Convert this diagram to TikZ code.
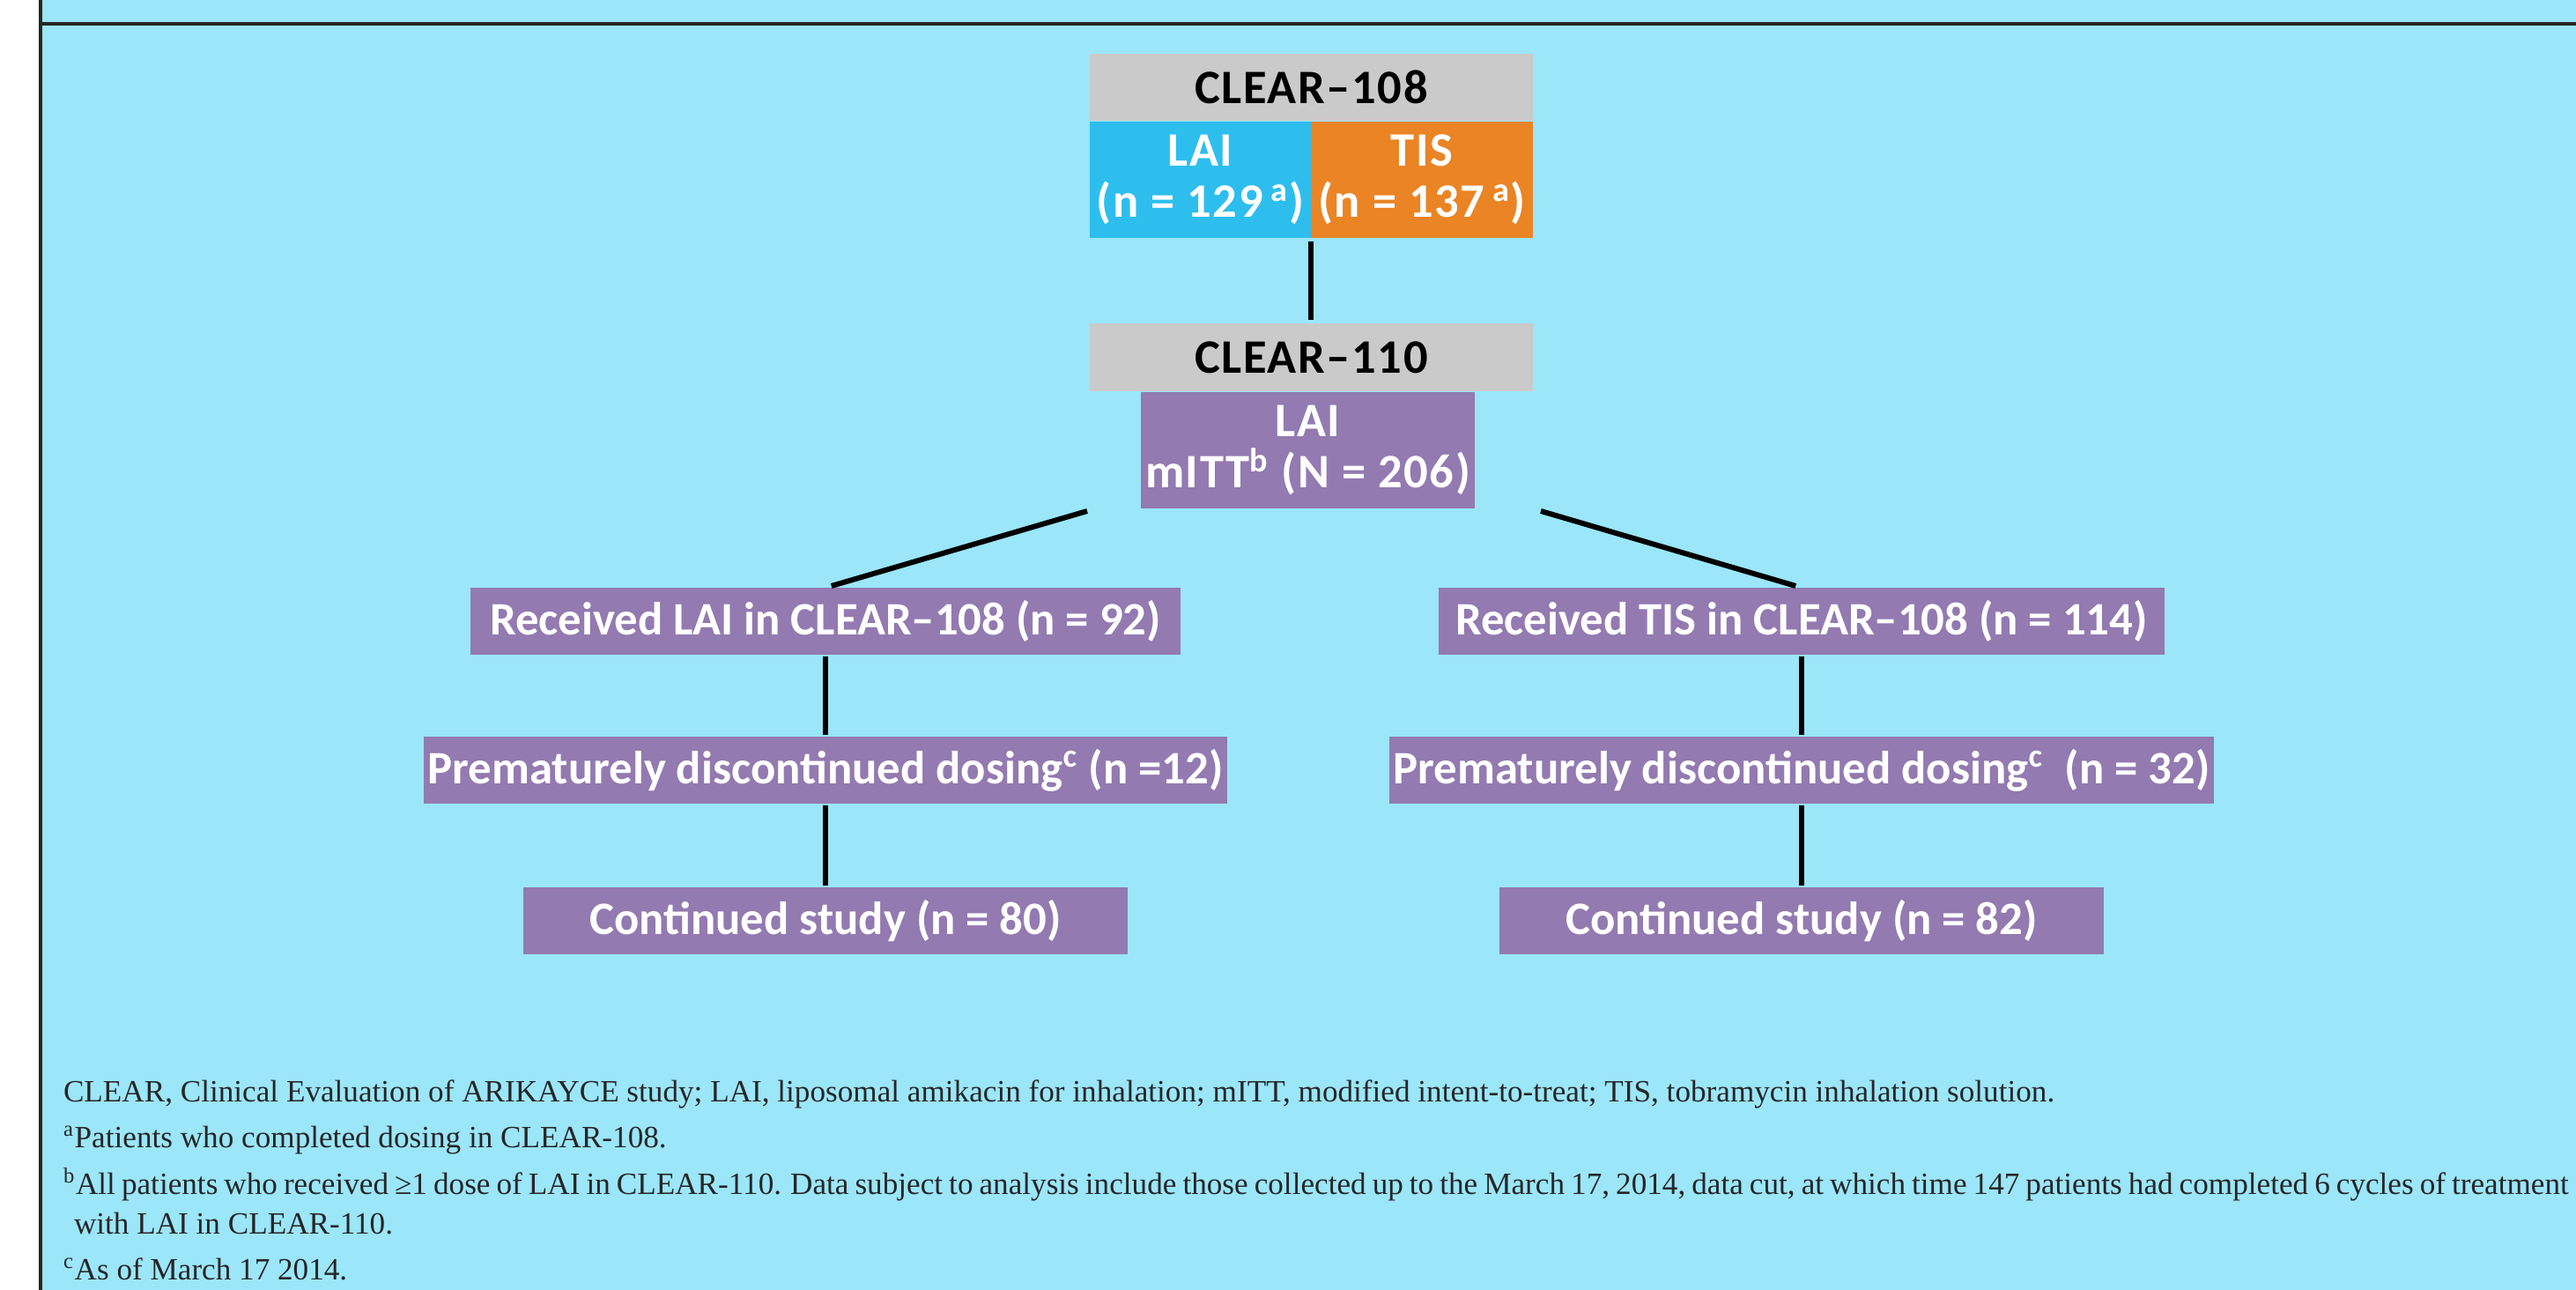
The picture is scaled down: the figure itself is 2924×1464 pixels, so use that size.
\documentclass[tikz,border=0pt]{standalone}
\usepackage{fontspec}
\setmainfont{Liberation Serif}
\newfontfamily\boxfont{Carlito}
\newfontfamily\topfont{Carlito}[LetterSpace=3]
\usetikzlibrary{calc}

\definecolor{panelblue}{RGB}{155,230,249}
\definecolor{headgray}{RGB}{202,202,202}
\definecolor{laiblue}{RGB}{45,190,238}
\definecolor{tisorange}{RGB}{234,132,37}
\definecolor{armpurple}{RGB}{147,122,176}

\begin{document}
\begin{tikzpicture}[x=0.01cm, y=-0.01cm, font=\boxfont\bfseries\fontsize{15}{16}\selectfont, every node/.style={outer sep=0pt, inner sep=0pt}, top/.style={font=\topfont\bfseries\fontsize{15.5}{16.5}\selectfont}, head/.style={top, fill=headgray, text=black, minimum width=5.03cm, minimum height=0.76cm, align=center}, arm/.style={top, fill=#1, text=white, minimum width=2.515cm, minimum height=1.31cm, align=center}, pbox/.style={fill=armpurple, text=white, minimum height=0.76cm, align=center}, link/.style={line width=1.7pt, line cap=butt}, note/.style={anchor=base west, font=\rmfamily\fontsize{10}{12}\selectfont, text=black!85}]
	\useasboundingbox (0,0) rectangle (2924,1464);
	
	% panel
	\fill[white] (0,0) rectangle (2924,1464);
	\fill[panelblue] (46,0) rectangle (2924,1464);
	\draw[line width=1pt, black!85] (46,0) -- (46,1464);
	\draw[line width=1.1pt, black!85] (46,27) -- (2924,27);
	
	% CLEAR-108
	\node[head] (c108) at (1488.5, 99) {CLEAR–108};
	\node[arm=laiblue] (lai) at (1362.5, 204) {LAI\\(n = 129\,\textsuperscript{a})};
	\node[arm=tisorange] (tis) at (1614, 204) {TIS\\(n = 137\,\textsuperscript{a})};
	
	% CLEAR-110
	\node[head] (c110) at (1488.5, 405.5) {CLEAR–110};
	\node[pbox, top, minimum width=3.79cm, minimum height=1.32cm] (mitt) at (1484.5, 511) {LAI\\mITT\textsuperscript{b} (N = 206)};
	\coordinate (forkL) at (1234, 580);
	\coordinate (forkR) at (1749, 580);
	
	% LAI arm
	\node[pbox, minimum width=8.05cm] (recLAI) at (937, 705) {Received LAI in CLEAR–108 (n = 92)};
	\node[pbox, minimum width=9.12cm] (disLAI) at (937, 874) {Prematurely discontinued dosing\textsuperscript{c} (n =12)};
	\node[pbox, minimum width=6.85cm] (conLAI) at (937, 1045) {Continued study (n = 80)};
	
	% TIS arm
	\node[pbox, minimum width=8.24cm] (recTIS) at (2045, 705) {Received TIS in CLEAR–108 (n = 114)};
	\node[pbox, minimum width=9.36cm] (disTIS) at (2045, 874) {Prematurely discontinued dosing\textsuperscript{c}\ \ (n = 32)};
	\node[pbox, minimum width=6.85cm] (conTIS) at (2045, 1045) {Continued study (n = 82)};
	
	\draw[link, shorten <=1.2pt, shorten >=1.2pt] (lai.south east) -- (lai.south east |- c110.north);
	\draw[link, shorten >=2pt] (forkL) -- (recLAI.north);
	\draw[link, shorten >=2pt] (forkR) -- (recTIS.north);
	\draw[link, shorten <=0.5pt, shorten >=0.5pt] (recLAI) -- (disLAI);
	\draw[link, shorten <=0.5pt, shorten >=0.5pt] (disLAI) -- (conLAI);
	\draw[link, shorten <=0.5pt, shorten >=0.5pt] (recTIS) -- (disTIS);
	\draw[link, shorten <=0.5pt, shorten >=0.5pt] (disTIS) -- (conTIS);
	
	% footnotes
	\node[note] (fnAbbr) at (72, 1250) {CLEAR, Clinical Evaluation of ARIKAYCE study; LAI, liposomal amikacin for inhalation; mITT, modified intent-to-treat; TIS, tobramycin inhalation solution.};
	\node[note] (fnA) at (72, 1302) {\textsuperscript{a}Patients who completed dosing in CLEAR-108.};
	\node[note] (fnB) at (72, 1355) {\spaceskip=0.2em\textsuperscript{b}All patients who received ≥1 dose of LAI in CLEAR-110. Data subject to analysis include those collected up to the March 17, 2014, data cut, at which time 147 patients had completed 6 cycles of treatment};
	\node[note] (fnB2) at (84, 1400) {with LAI in CLEAR-110.};
	\node[note] (fnC) at (72, 1452) {\textsuperscript{c}As of March 17 2014.};
\end{tikzpicture}
\end{document}
